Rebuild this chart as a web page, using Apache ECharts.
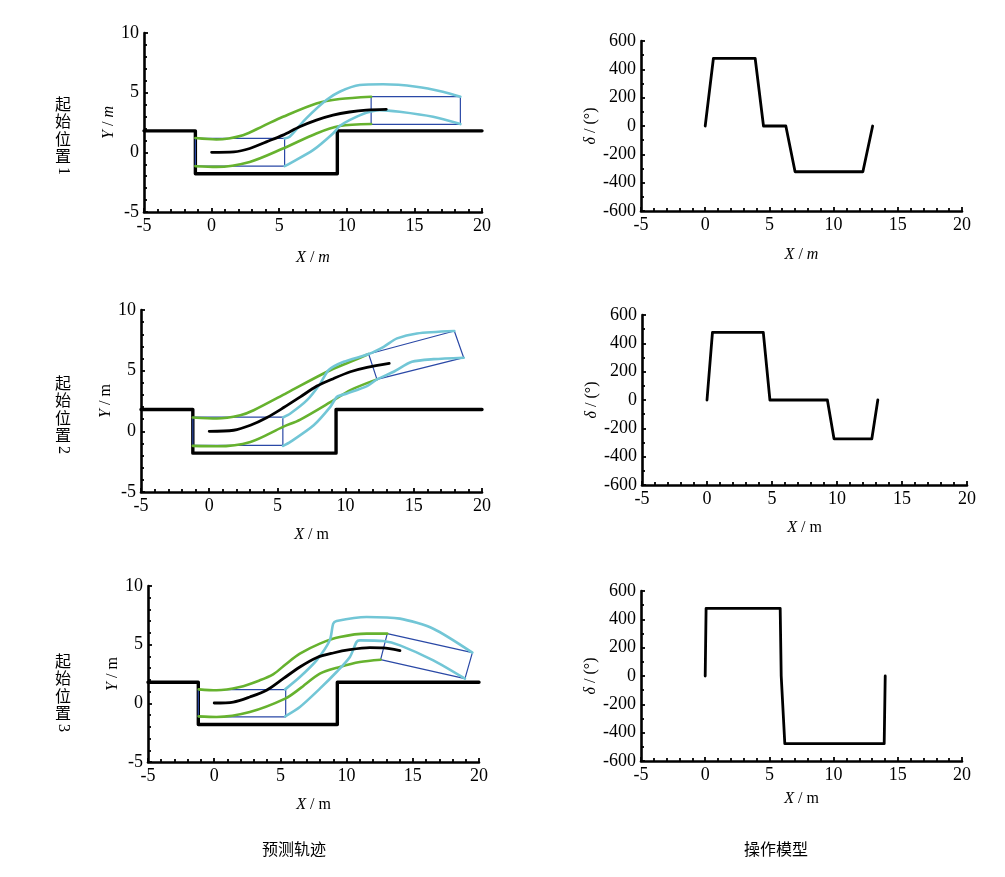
<!DOCTYPE html>
<html>
<head>
<meta charset="utf-8">
<script src="https://cdn.jsdelivr.net/npm/echarts@6/dist/echarts.min.js"></script>
<style>
  html, body { margin: 0; padding: 0; background: #fff; }
  #main { width: 1005px; height: 877px; }
</style>
</head>
<body>
<div id="main"></div>
<script>
(function() {
  'use strict';

  // parking slot boundary (same in all three cases)
  var road = [[-5, 1.8], [-1.2, 1.8], [-1.2, -1.8], [9.3, -1.8], [9.3, 1.8], [20, 1.8]];
  // car outline at the start position
  var startBox = [[-1.2, -1.15], [5.4, -1.15], [5.4, 1.17], [-1.2, 1.17], [-1.2, -1.15]];

  // case 1
  var c1Path = [[0, 0], [1.65, 0.04], [2.82, 0.32], [4.05, 0.88], [5.28, 1.44], [6.51, 2.14], [7.75, 2.7], [8.98, 3.12], [10.2, 3.38], [11.44, 3.54], [12.92, 3.6]];
  var c1RearL = [[-1.2, 1.2], [0.35, 1.08], [2.32, 1.44], [3.8, 2.2], [5.28, 2.98], [7.75, 4.1], [9.47, 4.47], [11.8, 4.66]];
  var c1RearR = [[-1.2, -1.16], [0.35, -1.22], [2.82, -0.8], [5.28, 0.32], [7.75, 1.58], [9.47, 2.2], [11.8, 2.37]];
  var c1FrontL = [[5.4, 1.16], [5.77, 1.3], [7.0, 2.84], [8.49, 4.38], [9.47, 5.08], [10.95, 5.64], [12.68, 5.7], [15.14, 5.5], [17.1, 5.08], [18.4, 4.66]];
  var c1FrontR = [[5.4, -1.16], [5.77, -0.94], [7.5, 0.18], [8.98, 1.58], [9.47, 2.2], [10.2, 2.7], [11.44, 3.32], [12.43, 3.54], [13.91, 3.4], [16.38, 2.98], [18.4, 2.37]];
  var c1EndBox = [[11.8, 2.35], [18.4, 2.35], [18.4, 4.66], [11.8, 4.66], [11.8, 2.35]];

  // case 2
  var c2Path = [[0, 0], [1.79, 0.09], [3.02, 0.5], [4.24, 1.14], [5.46, 1.96], [6.68, 2.84], [7.9, 3.73], [9.13, 4.36], [10.35, 4.91], [11.57, 5.27], [13.2, 5.6]];
  var c2RearL = [[-1.2, 1.14], [0.57, 1.06], [2.28, 1.33], [3.26, 1.74], [5.7, 3.17], [8.64, 4.91], [10.35, 5.73], [11.69, 6.37]];
  var c2RearR = [[-1.2, -1.2], [0.57, -1.23], [3.02, -0.87], [5.41, 0.37], [6.68, 0.97], [9.13, 2.57], [10.35, 3.4], [12.3, 4.28]];
  var c2FrontL = [[5.41, 1.14], [5.95, 1.47], [7.17, 2.57], [8.15, 3.95], [8.76, 5.05], [9.86, 5.73], [11.69, 6.37], [12.79, 6.97], [13.77, 7.66], [15.23, 8.07], [17.97, 8.27]];
  var c2FrontR = [[5.41, -1.2], [5.95, -0.87], [7.66, 0.5], [8.88, 2.02], [9.37, 2.84], [10.1, 3.12], [11.57, 3.73], [12.3, 4.28], [13.52, 4.91], [14.86, 5.73], [16.45, 5.95], [18.66, 6.07]];
  var c2EndBox = [[11.69, 6.37], [12.3, 4.28], [18.66, 6.07], [17.97, 8.27], [11.69, 6.37]];

  // case 3
  var c3Path = [[0, 0.03], [1.44, 0.11], [2.69, 0.54], [3.95, 1.11], [5.21, 2.1], [6.47, 3.1], [7.73, 3.89], [8.99, 4.29], [10.25, 4.57], [11.76, 4.74], [12.77, 4.72], [14.03, 4.49]];
  var c3RearL = [[-1.17, 1.19], [0.17, 1.11], [1.93, 1.39], [3.44, 1.96], [4.45, 2.47], [5.46, 3.38], [6.47, 4.23], [7.98, 5.09], [9.49, 5.65], [11.51, 5.94], [13.07, 5.94]];
  var c3RearR = [[-1.17, -1.11], [0.17, -1.16], [2.69, -0.74], [5.36, 0.4], [6.47, 1.25], [7.98, 2.53], [9.49, 3.1], [11.0, 3.52], [12.57, 3.72]];
  var c3FrontL = [[5.36, 1.19], [6.47, 2.24], [7.73, 3.66], [8.73, 5.37], [8.99, 6.79], [9.24, 7.02], [11.51, 7.36], [14.03, 7.22], [16.55, 6.36], [19.5, 4.32]];
  var c3FrontR = [[5.36, -1.11], [6.47, -0.31], [7.98, 1.25], [9.24, 2.67], [10.25, 3.95], [10.75, 5.23], [11.0, 5.37], [12.77, 5.31], [14.03, 4.94], [16.55, 3.66], [18.94, 2.1]];
  var c3EndBox = [[13.07, 5.94], [12.57, 3.72], [18.94, 2.1], [19.5, 4.32], [13.07, 5.94]];

  // steering wheel angle vs X
  var s1 = [[0, 0], [0.64, 478], [3.89, 478], [4.54, 0], [6.28, 0], [7.0, -323], [12.28, -323], [13.04, 0]];
  var s2 = [[0, 0], [0.42, 478], [4.33, 478], [4.84, 0], [9.26, 0], [9.77, -274], [12.68, -274], [13.14, 0]];
  var s3 = [[0, 0], [0.07, 478], [5.84, 478], [5.92, 0], [6.04, 0], [6.2, -478], [13.94, -478], [14.02, 0]];

  var serif = 'Liberation Serif';
  var cjk = 'Noto Sans CJK SC';
  var green = '#66b22e';
  var cyan = '#72c6d6';
  var blue = '#2a48a6';

  var grids = [
    { left: 144, top: 33, width: 338, height: 179 },
    { left: 141, top: 310, width: 341, height: 182 },
    { left: 148, top: 586, width: 331, height: 176 },
    { left: 641, top: 41, width: 321, height: 170 },
    { left: 642, top: 315, width: 325, height: 170 },
    { left: 641, top: 591, width: 321, height: 170 }
  ];

  var nameStyle = {
    fontFamily: serif,
    fontSize: 16,
    color: '#000',
    rich: {
      i: { fontFamily: serif, fontSize: 16, fontStyle: 'italic', color: '#000' },
      n: { fontFamily: serif, fontSize: 16, color: '#000' }
    }
  };

  var makeAxis = function(idx, name, gap, min, max, interval, minorSplit) {
    return {
      type: 'value',
      gridIndex: idx,
      min: min,
      max: max,
      interval: interval,
      name: name,
      nameLocation: 'middle',
      nameGap: gap,
      nameTextStyle: nameStyle,
      axisLine: { show: true, onZero: false, lineStyle: { color: '#000', width: 2.6 } },
      axisTick: { show: true, inside: true, length: 4, lineStyle: { color: '#000', width: 1.8 } },
      minorTick: { show: true, splitNumber: minorSplit, length: 3, lineStyle: { color: '#000', width: 1.8 } },
      axisLabel: { fontFamily: serif, fontSize: 18, color: '#000', margin: 5 },
      splitLine: { show: false }
    };
  };

  var xNames = ['{i|X}{n| / }{i|m}', '{i|X}{n| / m}', '{i|X}{n| / m}', '{i|X}{n| / }{i|m}', '{i|X}{n| / m}', '{i|X}{n| / m}'];
  var xGaps = [38, 35, 35, 36, 35, 30];
  var yNames = ['{i|Y}{n| / }{i|m}', '{i|Y}{n| / m}', '{i|Y}{n| / m}', '{i|δ}{n| / (°)}', '{i|δ}{n| / (°)}', '{i|δ}{n| / (°)}'];
  var yGaps = [24, 25, 27, 37, 38, 37];

  var xAxes = [];
  var yAxes = [];
  for (var i = 0; i < 6; i++) {
    xAxes.push(makeAxis(i, xNames[i], xGaps[i], -5, 20, 5, 5));
    if (i < 3) {
      yAxes.push(makeAxis(i, yNames[i], yGaps[i], -5, 10, 5, 5));
    } else {
      yAxes.push(makeAxis(i, yNames[i], yGaps[i], -600, 600, 200, 2));
    }
  }

  var line = function(idx, data, color, width, smooth) {
    return {
      type: 'line',
      xAxisIndex: idx,
      yAxisIndex: idx,
      data: data,
      symbol: 'none',
      smooth: smooth || false,
      silent: true,
      lineStyle: { color: color, width: width, join: 'round', cap: 'round' }
    };
  };

  var cases = [
    { path: c1Path, rl: c1RearL, rr: c1RearR, fl: c1FrontL, fr: c1FrontR, box: c1EndBox },
    { path: c2Path, rl: c2RearL, rr: c2RearR, fl: c2FrontL, fr: c2FrontR, box: c2EndBox },
    { path: c3Path, rl: c3RearL, rr: c3RearR, fl: c3FrontL, fr: c3FrontR, box: c3EndBox }
  ];
  var steer = [s1, s2, s3];

  var series = [];
  cases.forEach(function(c, k) {
    series.push(line(k, road, '#000', 3.4));
    series.push(line(k, startBox, blue, 1.2));
    series.push(line(k, c.box, blue, 1.2));
    series.push(line(k, c.rl, green, 2.6, 0.3));
    series.push(line(k, c.rr, green, 2.6, 0.3));
    series.push(line(k, c.fl, cyan, 2.6, 0.25));
    series.push(line(k, c.fr, cyan, 2.6, 0.25));
    series.push(line(k, c.path, '#000', 2.8, 0.3));
  });
  steer.forEach(function(s, k) {
    series.push(line(k + 3, s, '#000', 2.8));
  });

  var rowLabel = function(num, top) {
    return [{
      type: 'text',
      left: 55,
      top: top,
      style: { text: '起\n始\n位\n置', fontFamily: cjk, fontSize: 16, lineHeight: 17.5, fill: '#000' }
    }, {
      type: 'text',
      x: 71,
      y: top + 72,
      rotation: -Math.PI / 2,
      style: { text: String(num), fontFamily: serif, fontSize: 16, fill: '#000' }
    }];
  };

  var graphics = []
    .concat(rowLabel(1, 95))
    .concat(rowLabel(2, 374))
    .concat(rowLabel(3, 652))
    .concat([{
      type: 'text',
      left: 262,
      top: 841,
      style: { text: '预测轨迹', fontFamily: cjk, fontSize: 16, fill: '#000' }
    }, {
      type: 'text',
      left: 744,
      top: 841,
      style: { text: '操作模型', fontFamily: cjk, fontSize: 16, fill: '#000' }
    }]);

  var myChart = echarts.init(document.getElementById('main'));
  myChart.setOption({
    animation: false,
    backgroundColor: '#fff',
    grid: grids,
    xAxis: xAxes,
    yAxis: yAxes,
    series: series,
    graphic: graphics
  });
})();
</script>
</body>
</html>
